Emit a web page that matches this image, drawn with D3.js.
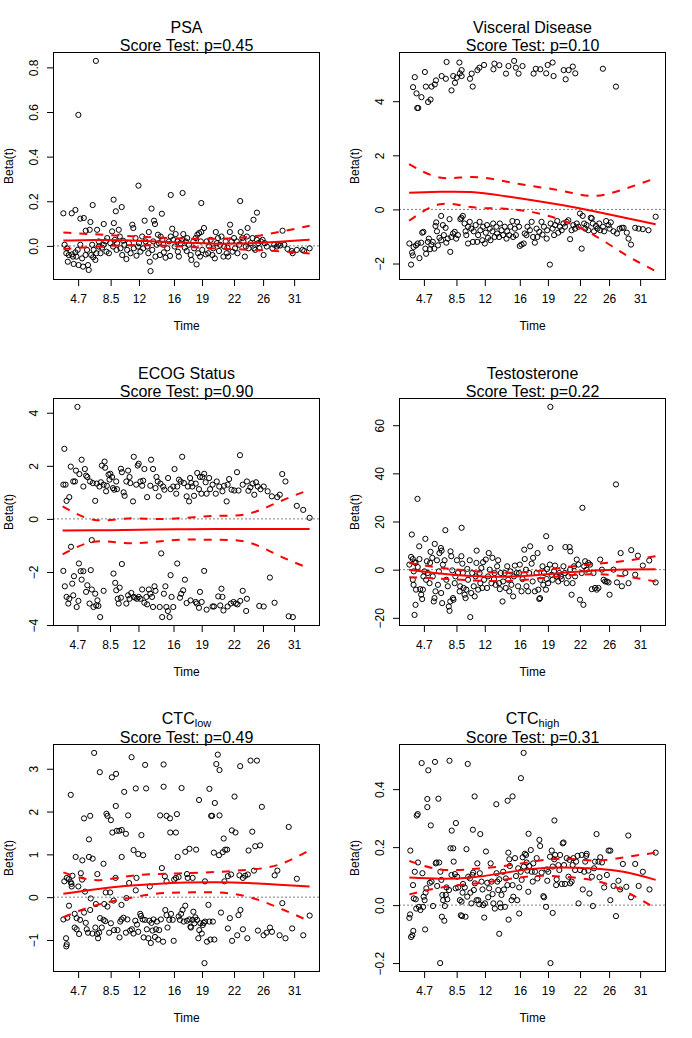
<!DOCTYPE html>
<html lang="en">
<head>
<meta charset="UTF-8">
<title>Scaled Schoenfeld residuals</title>
<style>
  body { margin: 0; background: #fff; }
  svg { display: block; font-family: "Liberation Sans", Arial, sans-serif; }
  .pt { fill: none; stroke: #000; stroke-width: 1; }
  .fit { fill: none; stroke: #ff0000; stroke-width: 2; }
  .band { fill: none; stroke: #ff0000; stroke-width: 2; stroke-dasharray: 8,8; }
  .zero { stroke: #000; stroke-width: 1; stroke-dasharray: 1,3; }
  .box { fill: none; stroke: #000; stroke-width: 1; }
  .tick line { stroke: #000; }
  .tick text { font-size: 12px; fill: #000; }
</style>
</head>
<body>
<div id="chart"></div>
<script src="https://d3js.org/d3.v7.min.js"></script>
<script>
// x positions are km-transformed event times (0..1), labels show the original times
const xTickPos = [0.060, 0.192, 0.307, 0.449, 0.563, 0.693, 0.811, 0.937];
const xTickLabels = ["4.7", "8.5", "12", "16", "19", "22", "26", "31"];

// grid for the smoothed beta(t) curve and its +-2se band
const fitT = [0, 0.125, 0.25, 0.375, 0.5, 0.625, 0.75, 0.875, 1];

// ---- PSA
const psaPts = [
  [0,.146],[.034,.146],[.049,.161],[.061,.587],[.119,.183],[.132,.829],[.204,.207],[.213,.155],[.237,.174],
  [.305,.270],[.358,.167],[.400,.144],[.436,.228],[.484,.237],[.560,.192],[.718,.201],[.786,.149],
  [.005,.005],[.015,-.011],[.012,-.033],[.022,-.041],[.018,-.071],[.035,-.038],[.039,-.048],[.042,-.081],
  [.049,-.029],[.053,-.048],[.058,-.018],[.062,-.086],[.069,.005],[.069,.122],[.076,-.056],[.080,-.093],
  [.083,.125],[.090,-.041],[.091,.068],[.096,-.018],[.100,-.086],[.103,-.108],[.107,.072],[.110,.107],
  [.113,-.041],[.117,.005],[.121,-.051],[.123,-.018],[.130,-.063],[.134,-.033],[.137,.072],[.144,.020],
  [.144,-.003],[.151,-.033],[.157,-.008],[.164,.098],[.164,.005],[.171,.020],[.175,-.026],[.178,.035],
  [.185,-.033],[.191,.012],[.198,.065],[.202,-.003],[.205,.102],[.209,.027],[.216,-.018],[.218,.012],
  [.225,.072],[.229,.042],[.232,-.011],[.239,-.041],[.243,.023],[.248,.005],[.256,-.059],[.259,-.018],
  [.266,.012],[.273,-.033],[.280,.095],[.284,.080],[.286,-.011],[.293,.035],[.297,-.044],[.303,-.003],
  [.307,.012],[.313,-.026],[.320,.042],[.324,-.011],[.330,.113],[.334,.020],[.341,-.003],[.345,-.033],
  [.347,.062],[.351,-.071],[.354,-.113],[.361,-.018],[.365,.020],[.368,.113],[.372,.098],[.374,-.048],
  [.379,.005],[.384,.050],[.388,.012],[.392,-.041],[.395,.042],[.402,.027],[.406,.005],[.408,-.029],
  [.415,-.053],[.422,-.011],[.429,.020],[.433,-.045],[.436,.042],[.442,.077],[.446,.027],[.452,-.003],
  [.456,.053],[.463,.020],[.465,-.026],[.469,-.048],[.476,.012],[.483,.027],[.487,.053],[.493,-.008],
  [.497,.020],[.501,-.023],[.503,.035],[.510,.005],[.517,-.041],[.520,-.063],[.528,.020],[.531,-.011],
  [.537,.035],[.541,-.083],[.544,.050],[.547,-.033],[.551,.057],[.555,-.048],[.558,.020],[.560,.062],
  [.564,-.018],[.571,.080],[.578,-.038],[.582,.020],[.588,-.033],[.592,-.003],[.598,.027],[.605,-.041],
  [.609,-.011],[.615,-.056],[.619,.062],[.623,.012],[.628,.035],[.632,-.023],[.636,.005],[.642,.042],
  [.650,-.048],[.653,-.003],[.659,.020],[.663,-.033],[.666,-.008],[.669,-.048],[.676,.062],[.677,.095],
  [.683,.020],[.687,-.026],[.693,.035],[.697,-.011],[.704,.020],[.707,-.033],[.714,.005],[.720,.062],
  [.727,.035],[.731,.020],[.737,-.048],[.741,-.003],[.745,.042],[.748,.080],[.752,-.011],[.761,.012],
  [.768,.035],[.772,.117],[.775,-.011],[.779,-.018],[.786,.027],[.791,.012],[.796,-.011],[.802,.020],
  [.809,.027],[.813,-.041],[.818,.012],[.826,-.003],[.849,-.011],[.856,.005],[.867,-.003],[.872,.005],
  [.881,.002],[.890,.068],[.897,.005],[.910,-.014],[.927,-.023],[.931,-.033],[.948,-.018],[.971,-.018],
  [.978,-.023],[1,-.011]
];
const psaFit = [.024, .026, .025, .020, .014, .010, .012, .019, .028];
const psaHi  = [.060, .052, .045, .038, .033, .032, .040, .062, .090];
const psaLo  = [-.014, -.004, .003, .002, -.004, -.012, -.017, -.024, -.034];

// ---- Visceral disease
const viscPts = [
  [.016,4.52],[.023,4.89],[.030,4.29],[.033,3.75],[.037,3.75],[.050,4.15],[.064,5.08],[.068,4.54],[.077,3.97],
  [.087,4.06],[.091,4.54],[.104,4.62],[.109,4.77],[.132,4.93],[.149,4.83],[.152,5.45],[.172,4.40],[.179,4.93],
  [.186,4.68],[.193,4.87],[.204,5.43],[.206,5.03],[.213,5.15],[.213,4.93],[.247,4.83],[.254,5.02],[.258,4.54],
  [.277,5.15],[.285,5.24],[.304,5.34],[.342,5.18],[.346,5.39],[.366,5.33],[.393,5.02],[.403,5.30],[.426,5.49],
  [.433,5.24],[.444,5.02],[.460,5.30],[.505,5.02],[.514,5.20],[.532,5.18],[.556,5.03],[.562,5.34],[.582,5.43],
  [.586,4.93],[.627,5.15],[.635,4.81],[.647,5.15],[.664,5.28],[.674,5.03],[.786,5.20],[.839,4.54],
  [.001,-1.26],[.008,-2.04],[.012,-1.60],[.015,-1.70],[.018,-1.39],[.028,-1.33],[.042,-1.80],[.035,-1.26],
  [.049,-1.23],[.053,-.86],[.058,-.83],[.066,-1.45],[.069,-1.64],[.076,-1.20],[.080,-1.08],[.085,-1.47],
  [.090,-1.30],[.096,-1.20],[.102,-1.45],[.107,-.61],[.110,-.48],[.113,-.81],[.117,-1.33],[.123,-1.05],
  [.130,-.24],[.130,-1.14],[.137,-.58],[.141,-.95],[.148,-.68],[.151,-1.23],[.157,-1.08],[.164,-.36],
  [.167,-1.57],[.171,-1.02],[.178,-.89],[.185,-.83],[.191,-1.08],[.198,-.95],[.208,-.36],[.212,-.31],
  [.218,-.24],[.225,-.52],[.229,-.81],[.232,-.95],[.239,-1.26],[.239,-.64],[.246,-.46],[.252,-.71],
  [.259,-1.20],[.262,-.81],[.270,-.58],[.276,-1.20],[.280,-.95],[.286,-.46],[.289,-.77],[.297,-1.14],
  [.300,-.64],[.307,-1.26],[.311,-.86],[.316,-.58],[.320,-1.05],[.327,-.71],[.330,-1.14],[.338,-.81],
  [.341,-.52],[.347,-1.02],[.354,-.64],[.357,-.89],[.365,-1.02],[.368,-.52],[.375,-.77],[.381,-.95],
  [.388,-.64],[.395,-1.08],[.398,-.81],[.406,-.95],[.411,-.64],[.419,-.43],[.422,-1.02],[.429,-.71],
  [.433,-.95],[.438,-.46],[.446,-.64],[.449,-1.35],[.456,-1.30],[.465,-1.26],[.469,-.89],[.476,-.95],
  [.480,-.64],[.490,-.77],[.497,-.46],[.503,-1.02],[.510,-1.23],[.517,-.71],[.520,-1.02],[.528,-.83],
  [.537,-.46],[.541,-.93],[.547,-.64],[.558,-1.08],[.560,-.77],[.571,-2.04],[.574,-.52],[.582,-.71],
  [.588,-.95],[.592,-.58],[.601,-.43],[.605,-.86],[.612,-.64],[.619,-.77],[.626,-.52],[.632,-.64],
  [.639,-.46],[.646,-.40],[.653,-1.10],[.659,-.77],[.666,-.58],[.673,-.71],[.680,-.52],[.687,-.64],
  [.693,-.15],[.700,-1.45],[.704,-.24],[.710,-.52],[.714,-.71],[.720,-.58],[.727,-.77],[.737,-.31],
  [.741,-.33],[.745,-.52],[.750,-.81],[.758,-.61],[.764,-.71],[.771,-.52],[.775,-.77],[.786,-.64],
  [.791,-.81],[.799,-.43],[.809,-.58],[.813,-.71],[.818,-.48],[.829,-.81],[.843,-.89],[.854,-.71],
  [.863,-.68],[.870,-.68],[.883,-.86],[.890,-1.08],[.900,-1.30],[.917,-.68],[.931,-.71],[.948,-.73],
  [.971,-.77],[1,-.27]
];
const viscFit = [.62, .65, .64, .51, .34, .15, -.07, -.31, -.55];
const viscHi  = [1.67, 1.18, 1.20, 1.06, .86, .68, .50, .76, 1.15];
const viscLo  = [-.42, .19, .09, .03, -.10, -.42, -.95, -1.66, -2.28];

// ---- ECOG status
const ecogPts = [
  [.060,4.22],[.007,2.64],[.003,1.29],[.012,1.29],[.016,.68],[.027,.82],[.033,1.97],[.043,1.41],[.050,1.41],
  [.054,1.82],[.068,1.69],[.077,2.23],[.084,1.22],[.090,1.88],[.095,1.63],[.100,1.58],[.111,1.41],[.122,1.35],
  [.132,.68],[.138,1.33],[.149,1.22],[.155,1.38],[.159,2.01],[.166,1.29],[.170,2.16],[.172,1.93],[.176,1.04],
  [.179,1.25],[.186,1.67],[.190,1.48],[.193,1.70],[.200,1.58],[.204,1.16],[.209,1.10],[.217,1.41],[.220,1.12],
  [.236,1.89],[.240,1.76],[.247,1.00],[.251,.87],[.258,1.41],[.265,1.82],[.271,1.58],[.274,1.35],[.285,.66],
  [.288,2.34],[.298,1.29],[.304,2.01],[.308,2.08],[.315,1.41],[.322,1.25],[.326,1.44],[.331,1.88],[.342,.82],
  [.355,1.25],[.358,2.23],[.366,1.88],[.376,1.16],[.380,1.58],[.385,1.41],[.389,.85],[.396,1.33],[.407,1.22],
  [.412,1.10],[.427,1.54],[.437,1.12],[.448,1.22],[.453,1.88],[.460,.95],[.464,1.22],[.471,1.48],[.478,1.41],
  [.484,2.34],[.491,1.35],[.502,.85],[.507,1.22],[.512,.66],[.516,1.54],[.521,1.35],[.525,1.22],[.532,.87],
  [.539,1.33],[.545,1.73],[.552,1.12],[.556,1.58],[.562,.95],[.566,1.58],[.573,1.70],[.579,1.38],[.583,.95],
  [.593,1.54],[.597,1.12],[.607,1.29],[.620,.95],[.624,1.41],[.634,1.22],[.647,1.04],[.654,1.25],[.664,.66],
  [.668,1.29],[.674,1.50],[.684,1.10],[.695,1.07],[.706,1.76],[.712,1.07],[.718,2.40],[.729,1.29],[.746,1.41],
  [.752,1.06],[.760,1.19],[.769,1.33],[.776,.91],[.783,1.38],[.790,1.22],[.801,1.12],[.814,1.22],[.830,1.04],
  [.847,.85],[.869,.82],[.879,.91],[.889,1.69],[.902,1.41],[.948,.49],[.974,.34],[1,.04],
  [.003,-1.96],[.009,-2.54],[.016,-2.94],[.023,-3.19],[.027,-3.01],[.034,-1.05],[.039,-2.44],[.046,-2.16],
  [.043,-2.88],[.057,-3.32],[.064,-3.09],[.066,-1.68],[.073,-1.97],[.077,-2.29],[.084,-1.97],[.095,-2.75],
  [.100,-2.50],[.109,-3.19],[.114,-1.93],[.118,-.80],[.118,-2.66],[.125,-3.32],[.132,-2.82],[.136,-3.26],
  [.141,-3.07],[.145,-3.28],[.152,-3.70],[.166,-2.71],[.206,-2.06],[.213,-2.41],[.217,-2.69],[.223,-3.01],
  [.227,-3.19],[.231,-2.59],[.236,-2.97],[.240,-1.70],[.258,-3.19],[.265,-2.88],[.271,-3.01],[.278,-2.79],
  [.288,-2.94],[.294,-2.97],[.301,-3.01],[.308,-2.94],[.315,-3.01],[.322,-2.66],[.331,-3.16],[.339,-2.94],
  [.342,-3.22],[.349,-2.66],[.355,-2.82],[.362,-2.94],[.366,-3.32],[.372,-2.54],[.376,-2.71],[.393,-3.32],
  [.399,-1.30],[.403,-3.70],[.410,-2.82],[.416,-2.54],[.420,-3.32],[.426,-3.47],[.433,-3.70],[.437,-2.12],
  [.441,-2.94],[.448,-3.32],[.464,-1.68],[.475,-2.97],[.480,-2.82],[.488,-2.69],[.495,-2.29],[.502,-3.17],
  [.518,-3.07],[.539,-3.13],[.543,-3.19],[.552,-3.35],[.556,-2.75],[.563,-3.13],[.573,-1.96],[.583,-3.42],
  [.607,-3.30],[.613,-3.30],[.630,-2.92],[.638,-3.26],[.643,-2.63],[.647,-2.94],[.651,-3.45],[.668,-3.30],
  [.681,-3.19],[.692,-3.13],[.701,-3.19],[.708,-3.22],[.719,-3.09],[.729,-2.71],[.743,-3.47],[.746,-3.01],
  [.796,-3.28],[.814,-3.30],[.839,-2.21],[.858,-3.16],[.915,-3.67],[.932,-3.70]
];
const ecogFit = [-.44, -.43, -.42, -.40, -.39, -.38, -.38, -.38, -.38];
const ecogHi  = [.47, -.03, .01, .00, .04, .12, .19, .64, 1.10];
const ecogLo  = [-1.34, -.86, -.91, -.86, -.78, -.79, -.88, -1.38, -1.87];

// ---- Testosterone
const testoPts = [
  [.573,67.6],[.034,29.4],[.839,35.4],[.703,25.7],[.213,17.4],[.147,16.4],[.011,14.6],[.556,13.9],[.066,12.8],
  [.104,10.7],[.041,9.7],[.573,9.0],[.491,9.7],[.634,9.4],[.651,9.4],[.901,8.1],[.858,6.9],[.928,5.8],
  [.974,3.8],[.654,7.6],[.521,6.9],[.129,9.0],[.132,7.9],[.274,7.9],[.323,6.9],[.087,7.4],[.168,7.6],[.467,8.3],
  [.001,2.1],[.008,5.3],[.015,4.4],[.019,-.7],[.022,3.1],[.026,2.8],[.015,-4.2],[.018,-6.3],[.028,-8.3],
  [.035,1.1],[.042,4.4],[.045,-8.1],[.049,-10.4],[.053,-12.2],[.056,-8.3],[.058,-2.8],[.062,-.7],[.026,-14.6],
  [.022,-18.8],[.069,-4.2],[.072,3.5],[.076,-1.4],[.083,-5.6],[.085,2.8],[.094,4.9],[.096,-2.8],[.100,-13.2],
  [.103,-11.8],[.107,-9.0],[.113,3.9],[.117,-6.3],[.121,-.7],[.123,6.9],[.130,-9.7],[.134,-13.9],[.137,2.1],
  [.144,3.9],[.151,-4.2],[.157,-6.9],[.161,-15.3],[.164,-17.1],[.167,-13.2],[.171,5.6],[.175,-.3],[.178,-11.8],
  [.180,-12.5],[.185,-5.6],[.188,-2.8],[.194,3.9],[.198,-1.4],[.205,-9.0],[.207,-6.9],[.212,5.6],[.216,2.5],
  [.218,-1.4],[.221,-7.6],[.225,-10.4],[.229,-11.8],[.232,-8.3],[.236,.3],[.239,-4.2],[.246,3.9],[.248,-19.7],
  [.252,-9.7],[.256,-1.4],[.262,-6.9],[.266,-11.1],[.270,-2.8],[.273,2.8],[.280,-8.3],[.286,-1.4],[.289,-5.6],
  [.293,.7],[.297,-7.6],[.300,3.1],[.304,-4.2],[.311,4.2],[.316,-7.6],[.320,-2.8],[.327,0],[.334,-5.6],
  [.338,4.9],[.344,-3.9],[.347,-1.4],[.351,-6.3],[.357,1.4],[.361,3.9],[.365,-5.6],[.368,-8.1],[.372,-1.4],
  [.379,-13.2],[.381,-4.9],[.388,-1.4],[.392,-7.6],[.398,1.4],[.402,-4.2],[.406,-9.0],[.411,-.7],[.415,-6.3],
  [.422,-11.1],[.425,-2.8],[.429,1.7],[.436,-1.4],[.442,-6.9],[.446,-1.4],[.449,2.1],[.456,-9.0],[.460,-3.9],
  [.469,4.4],[.474,0],[.476,-6.9],[.483,-9.0],[.487,-1.4],[.497,2.5],[.501,-4.9],[.503,4.9],[.510,-9.0],
  [.517,-1.4],[.524,-8.3],[.528,-12.2],[.531,-11.8],[.533,-4.2],[.541,1.4],[.544,-6.3],[.547,-1.4],[.555,-8.3],
  [.558,-3.9],[.560,.3],[.564,-5.6],[.571,2.1],[.578,-2.1],[.582,-4.2],[.588,-.7],[.592,1.7],[.598,-2.8],
  [.605,-4.9],[.609,-1.4],[.615,-2.8],[.619,-3.9],[.626,1.4],[.632,-1.4],[.639,-5.6],[.646,-2.8],[.653,0],
  [.659,-10.4],[.663,-5.6],[.669,1.4],[.673,-2.8],[.680,4.2],[.687,2.1],[.693,-12.5],[.700,-1.4],[.707,-14.6],
  [.710,1.4],[.714,3.5],[.720,0],[.727,2.8],[.734,2.1],[.741,-8.1],[.748,-1.4],[.754,-7.6],[.761,-8.3],
  [.768,-7.6],[.775,4.2],[.782,0],[.789,-4.2],[.795,-4.9],[.802,-4.9],[.809,-5.3],[.813,-10.4],[.829,0],
  [.843,-5.3],[.863,-6.9],[.877,-1.4],[.890,-5.6],[.917,-2.1],[.948,1.7],[1,-5.3]
];
const testoFit = [0, -1.6, -2.6, -2.9, -2.4, -1.3, -.3, .1, .2];
const testoHi  = [2.8, .8, -.5, -1.3, -.8, .9, 2.3, 3.6, 5.6];
const testoLo  = [-3.1, -3.7, -4.4, -4.8, -3.9, -2.6, -1.9, -2.8, -4.9];

// ---- CTC low
const ctcLowPts = [
  [.125,3.37],[.148,2.92],[.197,2.80],[.214,2.88],[.277,3.27],[.332,3.09],[.407,3.10],[.627,3.33],[.621,3.11],
  [.634,2.97],[.718,3.06],[.760,3.19],[.786,3.19],[.030,2.39],[.213,2.13],[.247,2.46],[.294,2.54],[.336,2.54],
  [.407,2.58],[.480,2.55],[.551,2.27],[.593,2.53],[.615,2.20],[.695,2.35],[.806,2.11],[.084,1.84],[.109,1.90],
  [.175,1.95],[.179,1.90],[.193,1.80],[.263,1.91],[.393,1.91],[.419,1.90],[.433,1.84],[.461,1.94],[.600,1.90],
  [.604,1.90],[.634,1.91],[.199,1.51],[.217,1.55],[.227,1.55],[.237,1.57],[.254,1.48],[.104,1.35],[.317,1.45],
  [.434,1.51],[.457,1.51],[.651,1.37],[.684,1.56],[.699,1.51],[.767,1.53],[.915,1.64],[.050,.94],[.077,.86],
  [.104,.94],[.119,.90],[.237,.94],[.285,1.10],[.304,1.01],[.324,.98],[.495,1.06],[.512,1.13],[.539,1.11],
  [.611,1.04],[.632,.98],[.647,1.05],[.657,1.11],[.665,1.11],[.752,1.09],[.779,1.19],[.799,1.21],[.163,.78],
  [.071,.56],[.138,.54],[.400,.68],[.464,.94],[.858,.51],[.869,.62],[.948,.43],[.004,.37],[.014,.45],
  [.022,.42],[.030,.35],[.037,.50],[.033,.31],[.034,.25],[.061,.25],[.076,.41],[.088,.13],[.172,.11],
  [.190,.11],[.212,.45],[.267,.33],[.294,.16],[.297,.45],[.351,.25],[.412,.49],[.419,.37],[.450,.41],
  [.457,.45],[.468,.47],[.502,.54],[.505,.45],[.525,.45],[.575,.37],[.654,.37],[.668,.49],[.681,.53],
  [.715,.51],[.729,.45],[.738,.50],[.749,.53],[.774,.62],[.111,-.03],[.132,-.16],[.166,-.16],[.179,-.22],
  [.204,-.08],[.236,-.18],[.256,-.02],[.023,-.20],[0,-.52],[.016,-.48],[.011,-.96],[.014,-1.10],[.012,-1.15],
  [.046,-.39],[.054,-.49],[.046,-.71],[.054,-.75],[.064,-.86],[.068,-.53],[.084,-.36],[.091,-.60],[.095,-.75],
  [.100,-.83],[.109,-.30],[.118,-.85],[.130,-.71],[.137,-.86],[.141,-.96],[.145,-.83],[.149,-.49],[.156,-.71],
  [.163,-.53],[.170,-.56],[.186,-.83],[.193,-.61],[.206,-.77],[.220,-.77],[.228,-.94],[.231,-.57],[.236,-.52],
  [.244,-.48],[.254,-.83],[.260,-.52],[.271,-.78],[.278,-.75],[.285,-.85],[.292,-.55],[.299,-.64],[.304,-.81],
  [.312,-.39],[.315,-.44],[.322,-.52],[.326,-.94],[.331,-.53],[.339,-.75],[.345,-.96],[.349,-.55],[.355,-1.07],
  [.358,-.60],[.362,-.78],[.366,-.52],[.372,-.93],[.376,-.75],[.380,-.57],[.385,-.99],[.389,-.77],[.396,-.52],
  [.405,-1.04],[.414,-.30],[.419,-.42],[.423,-.71],[.430,-.53],[.437,-.39],[.444,-.53],[.448,-1.02],[.468,-.45],
  [.473,-.53],[.478,-.39],[.484,-.30],[.489,-.57],[.495,-.20],[.502,-.55],[.512,-.52],[.516,-.69],[.518,-.71],
  [.525,-.53],[.528,-.34],[.532,-.61],[.536,-.47],[.543,-.53],[.548,-.96],[.552,-.77],[.556,-.61],[.562,-.85],
  [.566,-.65],[.570,-.60],[.575,-.57],[.583,-1.04],[.589,-.18],[.593,-.57],[.597,-.99],[.607,-.57],[.613,-.99],
  [.640,-.36],[.668,-.73],[.676,-.49],[.685,-1.02],[.706,-.89],[.711,-.42],[.719,-.30],[.729,-.75],[.747,-.96],
  [.790,-.78],[.813,-.89],[.825,-.83],[.839,-.71],[.847,-.81],[.878,-.89],[.902,-.96],[.889,-.14],[.929,-.73],
  [.974,-.89],[1,-.43],[.573,-1.54]
];
const ctcLowFit = [.08, .18, .26, .31, .34, .35, .33, .29, .25];
const ctcLowHi  = [.58, .40, .48, .54, .56, .59, .64, .76, 1.10];
const ctcLowLo  = [-.47, -.20, -.04, .08, .11, .11, .01, -.25, -.56];

// ---- CTC high
const ctcHighPts = [
  [.050,.490],[.104,.494],[.163,.498],[.077,.465],[.237,.487],[.464,.525],[.453,.438],[.073,.366],[.118,.367],
  [.073,.338],[.265,.375],[.419,.375],[.399,.360],[.353,.348],[.030,.309],[.034,.314],[.589,.292],[.087,.275],
  [.189,.283],[.172,.257],[.258,.260],[.288,.245],[.484,.246],[.760,.245],[.889,.240],[.528,.225],[.125,-.200],
  [.573,-.200],[.365,-.099],[.007,-.110],[.012,-.104],[.016,-.089],[.064,-.084],[0,-.044],[.003,-.032],
  [.132,-.040],[.142,-.054],[.209,-.035],[.214,-.038],[.228,-.040],[.304,-.043],[.403,-.050],[.446,-.029],
  [.582,-.027],[.839,-.038],
  [.004,.188],[.015,.069],[.022,.115],[.035,.147],[.018,.023],[.026,.020],[.028,-.012],[.039,-.006],
  [.045,-.017],[.053,.110],[.056,-.006],[.058,.029],[.062,.017],[.066,.043],[.069,.058],[.083,.077],
  [.090,.081],[.096,-.003],[.107,.144],[.110,.147],[.113,.066],[.121,.147],[.126,.115],[.130,.087],
  [.134,.035],[.137,.017],[.144,-.003],[.148,.035],[.151,.061],[.154,.020],[.161,.052],[.167,.196],
  [.171,.104],[.178,.196],[.180,.150],[.185,.107],[.188,.058],[.194,.098],[.198,.061],[.205,.017],
  [.212,.012],[.216,.043],[.218,.073],[.225,.061],[.232,.193],[.235,.029],[.239,.098],[.246,.092],
  [.248,.043],[.252,.006],[.256,.104],[.259,.112],[.262,.052],[.266,.075],[.273,.017],[.276,.144],
  [.280,.017],[.284,.003],[.286,.110],[.293,.081],[.297,.054],[.300,0],[.307,.006],[.311,.185],
  [.316,.077],[.320,.027],[.324,.058],[.330,.144],[.334,.081],[.338,.038],[.341,.006],[.347,-.012],
  [.354,.110],[.357,.081],[.361,.052],[.365,.089],[.368,.006],[.371,-.008],[.374,.035],[.381,.115],
  [.384,.054],[.388,-.006],[.392,.092],[.398,.069],[.402,.181],[.406,.158],[.408,.135],[.415,.017],
  [.419,.069],[.422,.029],[.429,.162],[.433,.100],[.438,.017],[.442,.127],[.446,.061],[.452,.115],
  [.456,.087],[.460,.165],[.465,.133],[.469,.177],[.474,.173],[.476,.147],[.479,.119],[.483,.046],
  [.487,.135],[.493,.190],[.497,.115],[.501,.081],[.503,.144],[.510,.115],[.517,.162],[.520,.092],
  [.531,.204],[.537,.112],[.544,.031],[.547,.027],[.555,-.006],[.558,.123],[.560,.084],[.564,.115],
  [.571,.167],[.578,.188],[.582,.133],[.588,.158],[.592,.173],[.596,.069],[.598,.089],[.605,.138],
  [.609,.121],[.612,.173],[.619,.073],[.623,.213],[.626,.216],[.628,.138],[.632,.073],[.639,.162],
  [.646,.098],[.650,.156],[.653,.075],[.659,.081],[.663,.138],[.666,.162],[.673,.121],[.677,.150],
  [.683,.170],[.687,.006],[.693,.121],[.700,.173],[.704,.054],[.710,.115],[.714,.150],[.718,.170],
  [.720,.177],[.727,.119],[.731,.040],[.741,.098],[.745,-.003],[.750,.127],[.754,.150],[.768,.150],
  [.772,.096],[.775,.165],[.782,.147],[.791,.061],[.802,.104],[.809,.188],[.816,.188],[.816,.017],
  [.829,.066],[.849,.084],[.856,.054],[.867,.142],[.881,.063],[.900,.027],[.917,.142],[.931,.066],
  [.948,.115],[.975,.054],[1,.181]
];
const ctcHighFit = [.095, .091, .095, .110, .125, .130, .126, .114, .087];
const ctcHighHi  = [.152, .123, .124, .134, .150, .160, .154, .165, .181];
const ctcHighLo  = [.037, .060, .073, .086, .100, .098, .085, .048, -.012];

const fmt1 = d3.format(".1f"), fmt0 = d3.format("d");
const panels = [
  {title: "PSA", sub: "", p: "0.45", pts: psaPts, fit: psaFit, hi: psaHi, lo: psaLo, yTicks: [0, 0.2, 0.4, 0.6, 0.8], fmt: fmt1},
  {title: "Visceral Disease", sub: "", p: "0.10", pts: viscPts, fit: viscFit, hi: viscHi, lo: viscLo, yTicks: [-2, 0, 2, 4], fmt: fmt0},
  {title: "ECOG Status", sub: "", p: "0.90", pts: ecogPts, fit: ecogFit, hi: ecogHi, lo: ecogLo, yTicks: [-4, -2, 0, 2, 4], fmt: fmt0},
  {title: "Testosterone", sub: "", p: "0.22", pts: testoPts, fit: testoFit, hi: testoHi, lo: testoLo, yTicks: [-20, 0, 20, 40, 60], fmt: fmt0},
  {title: "CTC", sub: "low", p: "0.49", pts: ctcLowPts, fit: ctcLowFit, hi: ctcLowHi, lo: ctcLowLo, yTicks: [-1, 0, 1, 2, 3], fmt: fmt0},
  {title: "CTC", sub: "high", p: "0.31", pts: ctcHighPts, fit: ctcHighFit, hi: ctcHighHi, lo: ctcHighLo, yTicks: [-0.2, 0, 0.2, 0.4], fmt: fmt1}
];

const width = 692, height = 1038;
const cellW = 346, cellH = 346;
const margin = {top: 52.5, right: 26.5, bottom: 66.5, left: 53.5};
const innerW = cellW - margin.left - margin.right;
const innerH = cellH - margin.top - margin.bottom;

const svg = d3.select("#chart").append("svg")
  .attr("width", width)
  .attr("height", height);

panels.forEach((pn, i) => {
  const col = i % 2, row = Math.floor(i / 2);
  const g = svg.append("g")
    .attr("transform", `translate(${col * cellW + margin.left},${row * cellH + margin.top})`);

  // R style limits: data range plus 4% each side
  const tExt = d3.extent(pn.pts, d => d[0]);
  const tPad = (tExt[1] - tExt[0]) * 0.04;
  const x = d3.scaleLinear().domain([tExt[0] - tPad, tExt[1] + tPad]).range([0, innerW]);

  const yAll = pn.pts.map(d => d[1]).concat(pn.hi, pn.lo);
  const yExt = d3.extent(yAll);
  const yPad = (yExt[1] - yExt[0]) * 0.04;
  const y = d3.scaleLinear().domain([yExt[0] - yPad, yExt[1] + yPad]).range([innerH, 0]);

  // zero reference line
  g.append("line").attr("class", "zero")
    .attr("x1", 0).attr("x2", innerW)
    .attr("y1", y(0)).attr("y2", y(0));

  // residual points
  g.selectAll("circle.pt").data(pn.pts).enter().append("circle")
    .attr("class", "pt")
    .attr("cx", d => x(d[0]))
    .attr("cy", d => y(d[1]))
    .attr("r", 2.6);

  const line = d3.line().x(d => x(d[0])).y(d => y(d[1])).curve(d3.curveNatural);
  const toPairs = arr => fitT.map((t, k) => [t, arr[k]]);
  g.append("path").attr("class", "fit").attr("d", line(toPairs(pn.fit)));
  g.append("path").attr("class", "band").attr("d", line(toPairs(pn.hi)));
  g.append("path").attr("class", "band").attr("d", line(toPairs(pn.lo)));

  // axes
  const xAxis = d3.axisBottom(x)
    .tickValues(xTickPos)
    .tickFormat((d, k) => xTickLabels[k])
    .tickSizeOuter(0)
    .tickSize(6.5)
    .tickPadding(8.6);
  const gx = g.append("g").attr("transform", `translate(0,${innerH})`).call(xAxis);
  gx.select(".domain").remove();
  gx.selectAll("text").attr("font-family", null).attr("font-size", null);

  const yAxis = d3.axisLeft(y)
    .tickValues(pn.yTicks)
    .tickFormat(pn.fmt)
    .tickSizeOuter(0)
    .tickSize(6.5);
  const gy = g.append("g").call(yAxis);
  gy.select(".domain").remove();
  gy.selectAll("text")
    .attr("font-family", null).attr("font-size", null)
    .attr("transform", "rotate(-90)")
    .attr("x", 0).attr("y", -16).attr("dy", 0)
    .attr("text-anchor", "middle");

  g.append("rect").attr("class", "box")
    .attr("width", innerW).attr("height", innerH);

  // axis titles
  g.append("text")
    .attr("x", innerW / 2).attr("y", innerH + 50)
    .attr("text-anchor", "middle").attr("font-size", 12)
    .text("Time");
  g.append("text")
    .attr("transform", `translate(${-41},${innerH / 2}) rotate(-90)`)
    .attr("text-anchor", "middle").attr("font-size", 12)
    .text("Beta(t)");

  // two-line title
  const t1 = g.append("text")
    .attr("x", innerW / 2).attr("y", pn.sub ? -21 : -19.3)
    .attr("text-anchor", "middle").attr("font-size", 16);
  t1.append("tspan").text(pn.title);
  if (pn.sub) t1.append("tspan").attr("font-size", 11).attr("dy", 3).text(pn.sub);
  g.append("text")
    .attr("x", innerW / 2).attr("y", -1.6)
    .attr("text-anchor", "middle").attr("font-size", 16)
    .text("Score Test: p=" + pn.p);
});
</script>
</body>
</html>
